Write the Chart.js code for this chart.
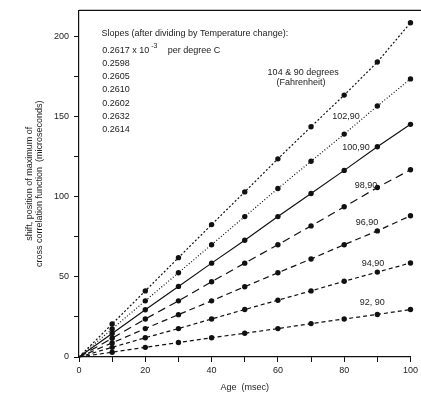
<!DOCTYPE html>
<html>
<head>
<meta charset="utf-8">
<script src="https://cdn.jsdelivr.net/npm/chart.js@4/dist/chart.umd.min.js"></script>
<style>
  html, body { margin: 0; padding: 0; background: #fff; }
  #wrap { width: 421px; height: 393px; }
</style>
</head>
<body>
<div id="wrap"><canvas id="shiftChart"></canvas></div>
<script>
// ages in msec, shifts in microseconds
var ages = [0, 10, 20, 30, 40, 50, 60, 70, 80, 90, 100];
var shift104 = [0, 20.6, 41.2, 61.9, 82.5, 102.9, 123.5, 143.5, 163.2, 183.8, 208.3];
var shift102 = [0, 17.5, 35.0, 52.5, 70.0, 87.5, 105.0, 122.0, 138.9, 156.4, 173.3];
var shift100 = [0, 14.7, 29.4, 44.0, 58.5, 72.8, 87.5, 101.9, 116.3, 131.0, 145.0];
var shift98 = [0, 11.7, 23.7, 35.0, 46.9, 58.5, 70.0, 81.7, 93.6, 105.6, 116.7];
var shift96 = [0, 8.8, 17.7, 26.4, 35.0, 43.8, 52.5, 61.1, 70.0, 78.6, 88.0];
var shift94 = [0, 6.0, 12.0, 17.7, 23.7, 29.6, 35.4, 41.2, 47.2, 52.9, 58.6];
var shift92 = [0, 3.0, 6.0, 9.0, 12.0, 14.8, 17.7, 20.8, 23.7, 26.5, 29.6];

var slopeLines = ['0.2598', '0.2605', '0.2610', '0.2602', '0.2632', '0.2614'];

// curve labels: [text, age, shift] anchored at their left edge
var curveLabels = [
  ['102,90', 76.4, 149.8],
  ['100,90', 79.4, 130.7],
  ['98,90', 83.2, 106.9],
  ['96,90', 83.5, 84.0],
  ['94,90', 85.3, 58.5],
  ['92, 90', 84.7, 33.8]
];

function pts(vals) {
  return ages.map(function(a, i) { return { x: a, y: vals[i] }; });
}

function series(vals, dash) {
  return {
    data: pts(vals),
    borderColor: '#111',
    backgroundColor: '#111',
    borderWidth: 1.2,
    borderDash: dash,
    pointRadius: ages.map(function(a) { return a === 0 ? 0 : 2.7; }),
    pointBorderWidth: 0,
    pointBackgroundColor: '#111',
    tension: 0,
    clip: false
  };
}

var textFont = '9px "Liberation Sans", Arial, sans-serif';

var annotations = {
  id: 'annotations',
  afterDraw: function(chart) {
    var ctx = chart.ctx;
    var xs = chart.scales.x, ys = chart.scales.y;
    var area = chart.chartArea;
    ctx.save();
    // top frame line
    ctx.strokeStyle = '#111';
    ctx.lineWidth = 1.2;
    ctx.beginPath();
    ctx.moveTo(area.left, area.top);
    ctx.lineTo(chart.width, area.top);
    ctx.stroke();

    ctx.fillStyle = '#222';
    ctx.font = textFont;
    ctx.textAlign = 'left';
    ctx.textBaseline = 'middle';
    var px = function(v) { return xs.getPixelForValue(v); };
    var py = function(v) { return ys.getPixelForValue(v); };

    ctx.fillText('Slopes (after dividing by Temperature change):', px(6.8), py(201.7));
    ctx.fillText('0.2617 x 10', px(7.0), py(191.2));
    ctx.font = '7px "Liberation Sans", Arial, sans-serif';
    ctx.fillText('-3', px(21.8), py(193.8));
    ctx.font = textFont;
    ctx.fillText('per degree C', px(26.8), py(191.2));
    slopeLines.forEach(function(s, i) {
      ctx.fillText(s, px(7.0), py(182.7 - i * 8.15));
    });

    ctx.fillText('104 & 90 degrees', px(56.9), py(177.6));
    ctx.fillText('(Fahrenheit)', px(59.6), py(170.8));
    curveLabels.forEach(function(c) {
      ctx.fillText(c[0], px(c[1]), py(c[2]));
    });
    ctx.restore();
  }
};

new Chart(document.getElementById('shiftChart'), {
  type: 'line',
  data: {
    datasets: [
      series(shift104, [2, 2]),
      series(shift102, [1, 2]),
      series(shift100, []),
      series(shift98, [8, 5]),
      series(shift96, [6, 4]),
      series(shift94, [4, 3]),
      series(shift92, [4, 3])
    ]
  },
  options: {
    responsive: true,
    maintainAspectRatio: false,
    animation: false,
    layout: { padding: { top: 9, right: 2, left: 0, bottom: 0 } },
    plugins: {
      legend: { display: false },
      tooltip: { enabled: false }
    },
    scales: {
      x: {
        type: 'linear',
        min: 0,
        max: 100,
        border: { display: true, color: '#111', width: 1.2 },
        grid: { display: true, drawOnChartArea: false, drawTicks: true, tickLength: 5, color: '#111' },
        ticks: {
          stepSize: 10,
          color: '#222',
          font: { family: '"Liberation Sans", Arial, sans-serif', size: 9 },
          maxRotation: 0,
          padding: 3,
          callback: function(v) { return v % 20 === 0 ? v : ''; }
        },
        title: {
          display: true,
          text: 'Age  (msec)',
          color: '#222',
          font: { family: '"Liberation Sans", Arial, sans-serif', size: 9 },
          padding: { top: 2, bottom: 0 }
        },
        afterFit: function(s) { s.height = 36; }
      },
      y: {
        min: 0,
        max: 216,
        border: { display: true, color: '#111', width: 1.2 },
        grid: { display: true, drawOnChartArea: false, drawTicks: true, tickLength: 5, color: '#111' },
        afterBuildTicks: function(axis) {
          axis.ticks = axis.ticks.filter(function(t) { return t.value % 25 === 0; });
        },
        ticks: {
          stepSize: 25,
          color: '#222',
          font: { family: '"Liberation Sans", Arial, sans-serif', size: 9 },
          padding: 5,
          callback: function(v) { return v % 50 === 0 ? v : ''; }
        },
        title: {
          display: true,
          text: ['shift, position of maximum of', 'cross correlation function  (microseconds)'],
          color: '#222',
          font: { family: '"Liberation Sans", Arial, sans-serif', size: 9, lineHeight: 1.15 },
          padding: { top: 24, bottom: 0 }
        },
        afterFit: function(s) { s.width = 79; }
      }
    }
  },
  plugins: [annotations]
});
</script>
</body>
</html>
